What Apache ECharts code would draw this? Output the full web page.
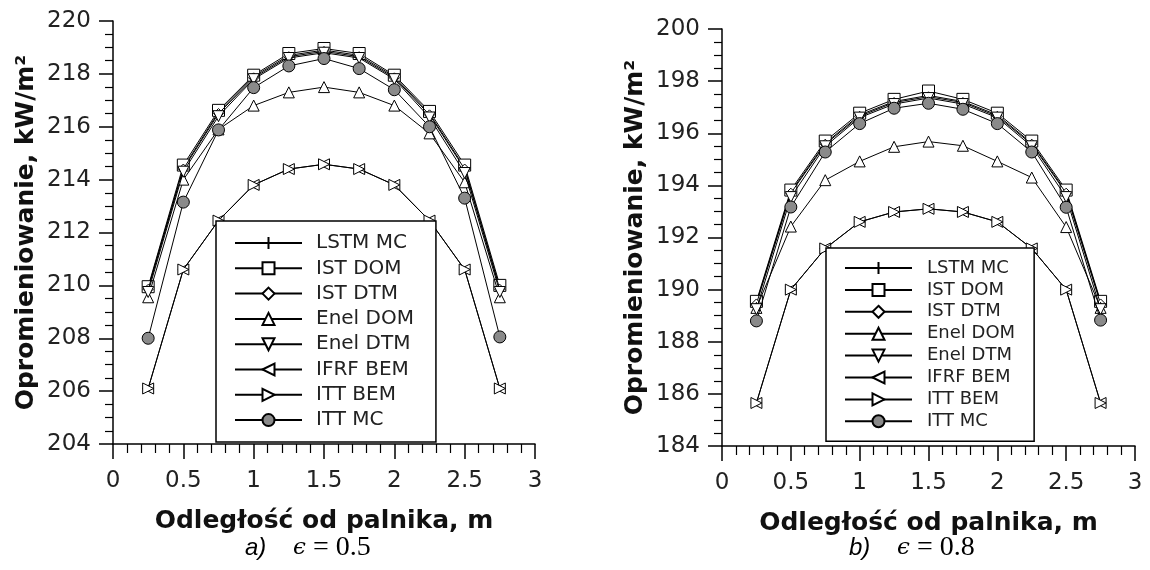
<!DOCTYPE html>
<html>
<head>
<meta charset="utf-8">
<title>Opromieniowanie</title>
<script src="https://cdn.jsdelivr.net/npm/echarts@6/dist/echarts.min.js"></script>
<style>
  html, body { margin: 0; padding: 0; background: #fff; }
  #chart { width: 1150px; height: 570px; }
</style>
</head>
<body>
<div id="chart"></div>
<script>
// Distance from the burner, m
const distance = [0.25, 0.5, 0.75, 1.0, 1.25, 1.5, 1.75, 2.0, 2.25, 2.5, 2.75];

const seriesNames = ['LSTM MC', 'IST DOM', 'IST DTM', 'Enel DOM', 'Enel DTM', 'IFRF BEM', 'ITT BEM', 'ITT MC'];

// Panel a) emissivity 0.5, incident radiation kW/m2
const a_lstmMC  = [209.9, 214.45, 216.55, 217.9, 218.7, 218.9, 218.7, 217.9, 216.5, 214.45, 209.9];
const a_istDOM  = [209.95, 214.55, 216.62, 217.95, 218.77, 218.96, 218.77, 217.95, 216.58, 214.55, 210.0];
const a_istDTM  = [209.85, 214.4, 216.5, 217.85, 218.65, 218.85, 218.65, 217.85, 216.45, 214.4, 209.85];
const a_enelDOM = [209.55, 214.0, 215.9, 216.8, 217.3, 217.5, 217.3, 216.8, 215.75, 213.9, 209.55];
const a_enelDTM = [209.75, 214.3, 216.4, 217.8, 218.6, 218.8, 218.6, 217.8, 216.35, 214.25, 209.75];
const a_ifrfBEM = [206.1, 210.6, 212.45, 213.8, 214.4, 214.58, 214.4, 213.8, 212.45, 210.6, 206.1];
const a_ittBEM  = [206.1, 210.6, 212.45, 213.8, 214.4, 214.58, 214.4, 213.8, 212.45, 210.6, 206.1];
const a_ittMC   = [208.0, 213.15, 215.88, 217.48, 218.3, 218.58, 218.2, 217.4, 216.0, 213.3, 208.05];

// Panel b) emissivity 0.8
const b_lstmMC  = [189.5, 193.75, 195.62, 196.7, 197.22, 197.45, 197.22, 196.7, 195.62, 193.75, 189.5];
const b_istDOM  = [189.55, 193.82, 195.7, 196.77, 197.3, 197.62, 197.3, 196.77, 195.7, 193.82, 189.55];
const b_istDTM  = [189.45, 193.7, 195.58, 196.65, 197.18, 197.4, 197.18, 196.65, 195.58, 193.7, 189.45];
const b_enelDOM = [189.3, 192.42, 194.2, 194.92, 195.48, 195.68, 195.52, 194.92, 194.3, 192.4, 189.3];
const b_enelDTM = [189.25, 193.55, 195.5, 196.6, 197.12, 197.35, 197.12, 196.6, 195.5, 193.55, 189.25];
const b_ifrfBEM = [185.65, 190.0, 191.58, 192.6, 192.98, 193.1, 192.98, 192.6, 191.58, 190.0, 185.65];
const b_ittBEM  = [185.65, 190.0, 191.58, 192.6, 192.98, 193.1, 192.98, 192.6, 191.58, 190.0, 185.65];
const b_ittMC   = [188.8, 193.17, 195.28, 196.37, 196.96, 197.15, 196.92, 196.37, 195.28, 193.16, 188.83];

// Axis ranges and ticks
const xTicks = { min: 0, max: 3, step: 0.5 };
const aTicks = { min: 204, max: 220, step: 2 };
const bTicks = { min: 184, max: 200, step: 2 };

const xTitle = 'Odległość od palnika, m';
const yTitle = 'Opromieniowanie, kW/m²';
const captions = [
  { tag: 'a)', eps: '0.5' },
  { tag: 'b)', eps: '0.8' }
];

const panelA = [a_lstmMC, a_istDOM, a_istDTM, a_enelDOM, a_enelDTM, a_ifrfBEM, a_ittBEM, a_ittMC];
const panelB = [b_lstmMC, b_istDOM, b_istDTM, b_enelDOM, b_enelDTM, b_ifrfBEM, b_ittBEM, b_ittMC];

// Marker styles for each method
const PLUS = 'path://M5,0L5,10M0,5L10,5';
const markers = {
  'LSTM MC':  { symbol: PLUS, size: 12, rotate: 0, fill: '#fff' },
  'IST DOM':  { symbol: 'rect', size: 12, rotate: 0, fill: '#fff' },
  'IST DTM':  { symbol: 'diamond', size: 10, rotate: 0, fill: '#fff' },
  'Enel DOM': { symbol: 'triangle', size: 11, rotate: 0, fill: '#fff' },
  'Enel DTM': { symbol: 'triangle', size: 11, rotate: 180, fill: '#fff' },
  'IFRF BEM': { symbol: 'triangle', size: 11, rotate: 90, fill: '#fff' },
  'ITT BEM':  { symbol: 'triangle', size: 11, rotate: -90, fill: '#fff' },
  'ITT MC':   { symbol: 'circle', size: 12, rotate: 0, fill: '#8a8a8a' }
};

const FONT = 'DejaVu Sans';

function makeSeries(values, idx) {
  return seriesNames.map((name, k) => {
    const m = markers[name];
    return {
      type: 'line',
      name: name,
      xAxisIndex: idx,
      yAxisIndex: idx,
      data: distance.map((x, i) => [x, values[k][i]]),
      symbol: m.symbol,
      symbolSize: m.size,
      symbolRotate: m.rotate,
      showAllSymbol: true,
      lineStyle: { color: '#000', width: 1 },
      itemStyle: { color: m.fill, borderColor: '#000', borderWidth: 1 },
      emphasis: { disabled: true },
      z: 2 + k
    };
  });
}

function xAxis(idx) {
  return {
    type: 'value', gridIndex: idx,
    min: xTicks.min, max: xTicks.max, interval: xTicks.step,
    name: xTitle, nameLocation: 'middle', nameGap: 65,
    nameTextStyle: { fontFamily: FONT, fontWeight: 'bold', fontSize: 25, color: '#111' },
    axisLine: { show: true, onZero: false, lineStyle: { color: '#000', width: 1.5 } },
    axisTick: { show: true, length: 15, lineStyle: { color: '#000', width: 1.5 } },
    minorTick: { show: true, splitNumber: 5, length: 9, lineStyle: { color: '#000', width: 1.2 } },
    axisLabel: { fontFamily: FONT, fontSize: 23, color: '#222', margin: 26 },
    splitLine: { show: false }, minorSplitLine: { show: false }
  };
}

function yAxis(idx, t) {
  return {
    type: 'value', gridIndex: idx,
    min: t.min, max: t.max, interval: t.step,
    name: yTitle, nameLocation: 'middle', nameGap: 74,
    nameTextStyle: { fontFamily: FONT, fontWeight: 'bold', fontSize: 25, color: '#111' },
    axisLine: { show: true, onZero: false, lineStyle: { color: '#000', width: 1.5 } },
    axisTick: { show: true, length: 14, lineStyle: { color: '#000', width: 1.5 } },
    minorTick: { show: true, splitNumber: 4, length: 8, lineStyle: { color: '#000', width: 1.2 } },
    axisLabel: { fontFamily: FONT, fontSize: 23, color: '#222', margin: 22 },
    splitLine: { show: false }, minorSplitLine: { show: false }
  };
}

function legend(pos) {
  return {
    orient: 'vertical',
    left: pos.left, top: pos.top,
    data: seriesNames,
    itemWidth: 67, itemHeight: 15,
    itemGap: pos.gap,
    padding: pos.padding,
    borderColor: '#000', borderWidth: 1.5,
    backgroundColor: '#fff',
    selectedMode: false,
    textStyle: {
      fontFamily: FONT, fontSize: pos.font, color: '#222',
      lineHeight: pos.font, padding: [0, 0, 0, pos.textPad]
    },
    z: 10
  };
}

const chart = echarts.init(document.getElementById('chart'), null, { renderer: 'canvas' });

const option = {
  animation: false,
  backgroundColor: '#fff',
  grid: [
    { left: 113, top: 21, width: 422, height: 423 },
    { left: 722, top: 29, width: 413, height: 417 }
  ],
  xAxis: [xAxis(0), xAxis(1)],
  yAxis: [yAxis(0, aTicks), yAxis(1, bTicks)],
  legend: [
    legend({ left: 216, top: 221, gap: 5.3, font: 20, textPad: 9, padding: [12, 22, 12, 18] }),
    legend({ left: 826, top: 248, gap: 3.9, font: 18, textPad: 10, padding: [11, 19, 11, 18] })
  ],
  series: makeSeries(panelA, 0).concat(makeSeries(panelB, 1)),
  graphic: captions.map((c, i) => ({
    type: 'text',
    left: i === 0 ? 245 : 849,
    top: 534,
    style: {
      text: '{t|' + c.tag + '}{s|    }{e|ϵ}{m| = ' + c.eps + '}',
      rich: {
        t: { fontFamily: 'Liberation Sans', fontStyle: 'italic', fontSize: 24, fill: '#000' },
        s: { fontSize: 24 },
        e: { fontFamily: 'DejaVu Serif', fontStyle: 'italic', fontSize: 23, fill: '#000' },
        m: { fontFamily: 'Liberation Serif', fontSize: 28, fill: '#000' }
      }
    }
  }))
};

chart.setOption(option);
</script>
</body>
</html>
